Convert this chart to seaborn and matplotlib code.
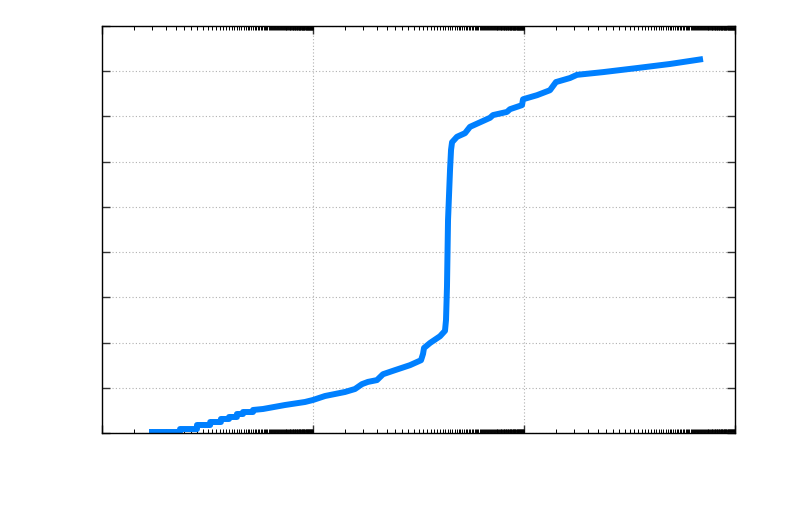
import numpy as np
import pandas as pd
import matplotlib
matplotlib.use("Agg")
import matplotlib.pyplot as plt
import matplotlib.ticker as mticker
import seaborn as sns

# Data (log-x cumulative curve)
x_vals = [2.79, 5.49, 5.49, 7.95, 7.95, 10.6, 10.6, 13.4, 13.4, 16.0, 16.0, 19.0, 19.0,
          21.7, 21.7, 27.0, 27.0, 33.6, 54.3, 84.0, 100, 130, 201, 250, 291, 332, 404,
          461, 599, 830, 1057, 1104, 1128, 1285, 1600, 1783, 1823, 1862, 1905, 1990,
          2034, 2080, 2317, 2760, 3077, 4763, 5080, 6900, 7362, 9575, 9790, 13280,
          17620, 20090, 27290, 31780, 56100, 117800, 242000, 497500]
y_vals = [0.22, 0.22, 0.88, 0.88, 1.77, 1.77, 2.43, 2.43, 3.10, 3.10, 3.54, 3.54, 4.20,
          4.20, 4.64, 4.64, 5.09, 5.31, 6.19, 6.86, 7.30, 8.18, 9.07, 9.73, 10.8, 11.3,
          11.7, 13.0, 13.9, 15.0, 16.1, 17.5, 18.8, 19.9, 21.4, 22.6, 25.0, 32.3, 47.1,
          58.2, 62.6, 64.3, 65.5, 66.3, 67.7, 69.7, 70.3, 71.0, 71.6, 72.5, 73.8, 74.7,
          75.8, 77.6, 78.5, 79.2, 79.8, 80.7, 81.6, 82.7]
x_major = [1, 1e2, 1e4, 1e6]
y_major = [0, 10, 20, 30, 40, 50, 60, 70, 80, 90]

df = pd.DataFrame({"x": x_vals, "y": y_vals, "order": np.arange(len(x_vals))})

sns.set_style("white")
fig = plt.figure(figsize=(7.85, 5.23), dpi=100)
ax = fig.add_axes([102/785, 1 - 433/523, (735-102)/785, (433-26)/523])

sns.lineplot(data=df, x="x", y="y", sort=False, estimator=None, ax=ax,
             color="#0080ff", linewidth=4.3, solid_capstyle="butt")

ax.set_xscale("log")
ax.set_xlim(1, 1e6)
ax.set_ylim(0, 90)
ax.set_xticks(x_major)
minor = [k * 100.0**n for n in range(3) for k in range(2, 100)]
ax.xaxis.set_minor_locator(mticker.FixedLocator(minor))
ax.set_yticks(y_major)
ax.yaxis.set_minor_locator(mticker.NullLocator())
ax.xaxis.set_major_formatter(mticker.NullFormatter())
ax.xaxis.set_minor_formatter(mticker.NullFormatter())
ax.yaxis.set_major_formatter(mticker.NullFormatter())
ax.set_xlabel("")
ax.set_ylabel("")

ax.tick_params(which="major", direction="in", length=6, width=1, color="#333333",
               top=True, right=True, bottom=True, left=True)
ax.tick_params(which="minor", direction="in", length=3, width=0.7, color="black",
               top=True, bottom=True)
ax.grid(True, which="major", color="#b0b0b0", linestyle=(0, (1, 2)), linewidth=0.8)
for s in ax.spines.values():
    s.set_color("black")
    s.set_linewidth(1)
    s.set_visible(True)

fig.savefig("out.png", dpi=100)
